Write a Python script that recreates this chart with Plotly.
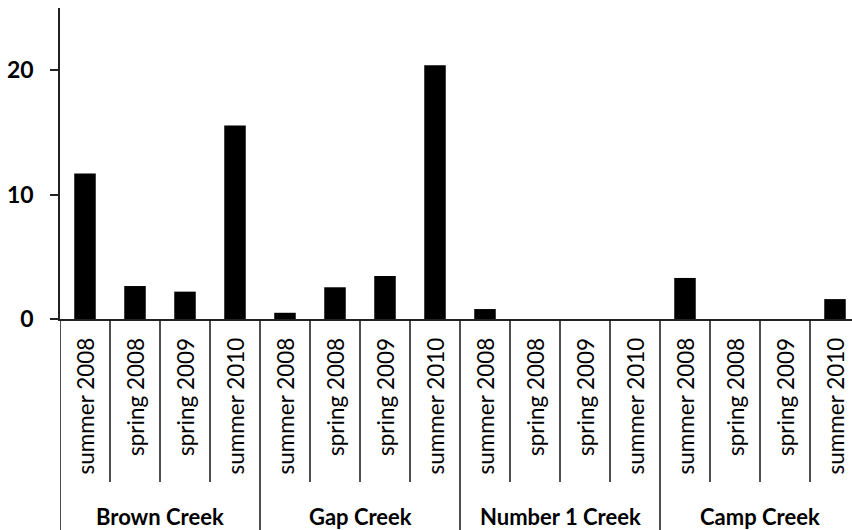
import plotly.graph_objects as go

groups = ["Brown Creek", "Gap Creek", "Number 1 Creek", "Camp Creek"]
seasons = ["summer 2008", "spring 2008", "spring 2009", "summer 2010"]
brown = [11.7, 2.65, 2.2, 15.55]
gap = [0.5, 2.55, 3.45, 20.4]
number1 = [0.8, 0, 0, 0]
camp = [3.3, 0, 0, 1.6]
y_ticks = [0, 10, 20]

values = brown + gap + number1 + camp
labels = seasons * len(groups)
xpos = list(range(len(values)))

FONT = "Lato"
LINE = "#222222"
W, H = 852, 530
ML, MT, MB = 60, 8, 211
plot_h = H - MT - MB

fig = go.Figure()
fig.add_trace(go.Bar(x=xpos, y=values, marker=dict(color="black", line=dict(width=0)),
                     width=0.43, hoverinfo="skip"))

shapes = []
annotations = []
n_per = len(seasons)
for i in range(len(values) + 1):
    xb = i - 0.5
    if i % n_per == 0:
        y1 = -(H - MT - plot_h) / plot_h - 0.05
    else:
        y1 = -(482 - (MT + plot_h)) / plot_h
    shapes.append(dict(type="line", xref="x", yref="paper", x0=xb, x1=xb, y0=0, y1=y1,
                       line=dict(color=LINE, width=1.6)))

for i, lab in enumerate(labels):
    annotations.append(dict(x=i, y=0, xref="x", yref="paper", text=lab, textangle=-90,
                            showarrow=False, xanchor="center", yanchor="top", yshift=-17,
                            font=dict(family=FONT, size=22.5, color="black")))
for g, name in enumerate(groups):
    annotations.append(dict(x=g * n_per + (n_per - 1) / 2, y=0, xref="x", yref="paper",
                            text="<b>%s</b>" % name, showarrow=False, xanchor="center",
                            yanchor="middle", yshift=-197,
                            font=dict(family=FONT, size=22, color="black")))

fig.update_layout(
    width=W, height=H,
    margin=dict(l=ML, r=0, t=MT, b=MB),
    paper_bgcolor="white", plot_bgcolor="white",
    showlegend=False,
    shapes=shapes, annotations=annotations,
    xaxis=dict(range=[-0.5, 15.34], showticklabels=False, ticks="", showgrid=False,
               zeroline=False, showline=True, linecolor=LINE, linewidth=1.6),
    yaxis=dict(range=[0, 25], tickvals=y_ticks, ticktext=["<b>%d</b>" % v for v in y_ticks],
               ticks="outside", ticklen=8, tickwidth=1.6, tickcolor=LINE,
               showline=True, linecolor=LINE, linewidth=1.6, showgrid=False, zeroline=False,
               tickfont=dict(family=FONT, size=23, color="black"), ticklabelstandoff=12),
)

fig.write_html("out.html", config={"displayModeBar": False},
               post_script="document.body.style.margin='0';document.body.style.overflow='hidden';")
